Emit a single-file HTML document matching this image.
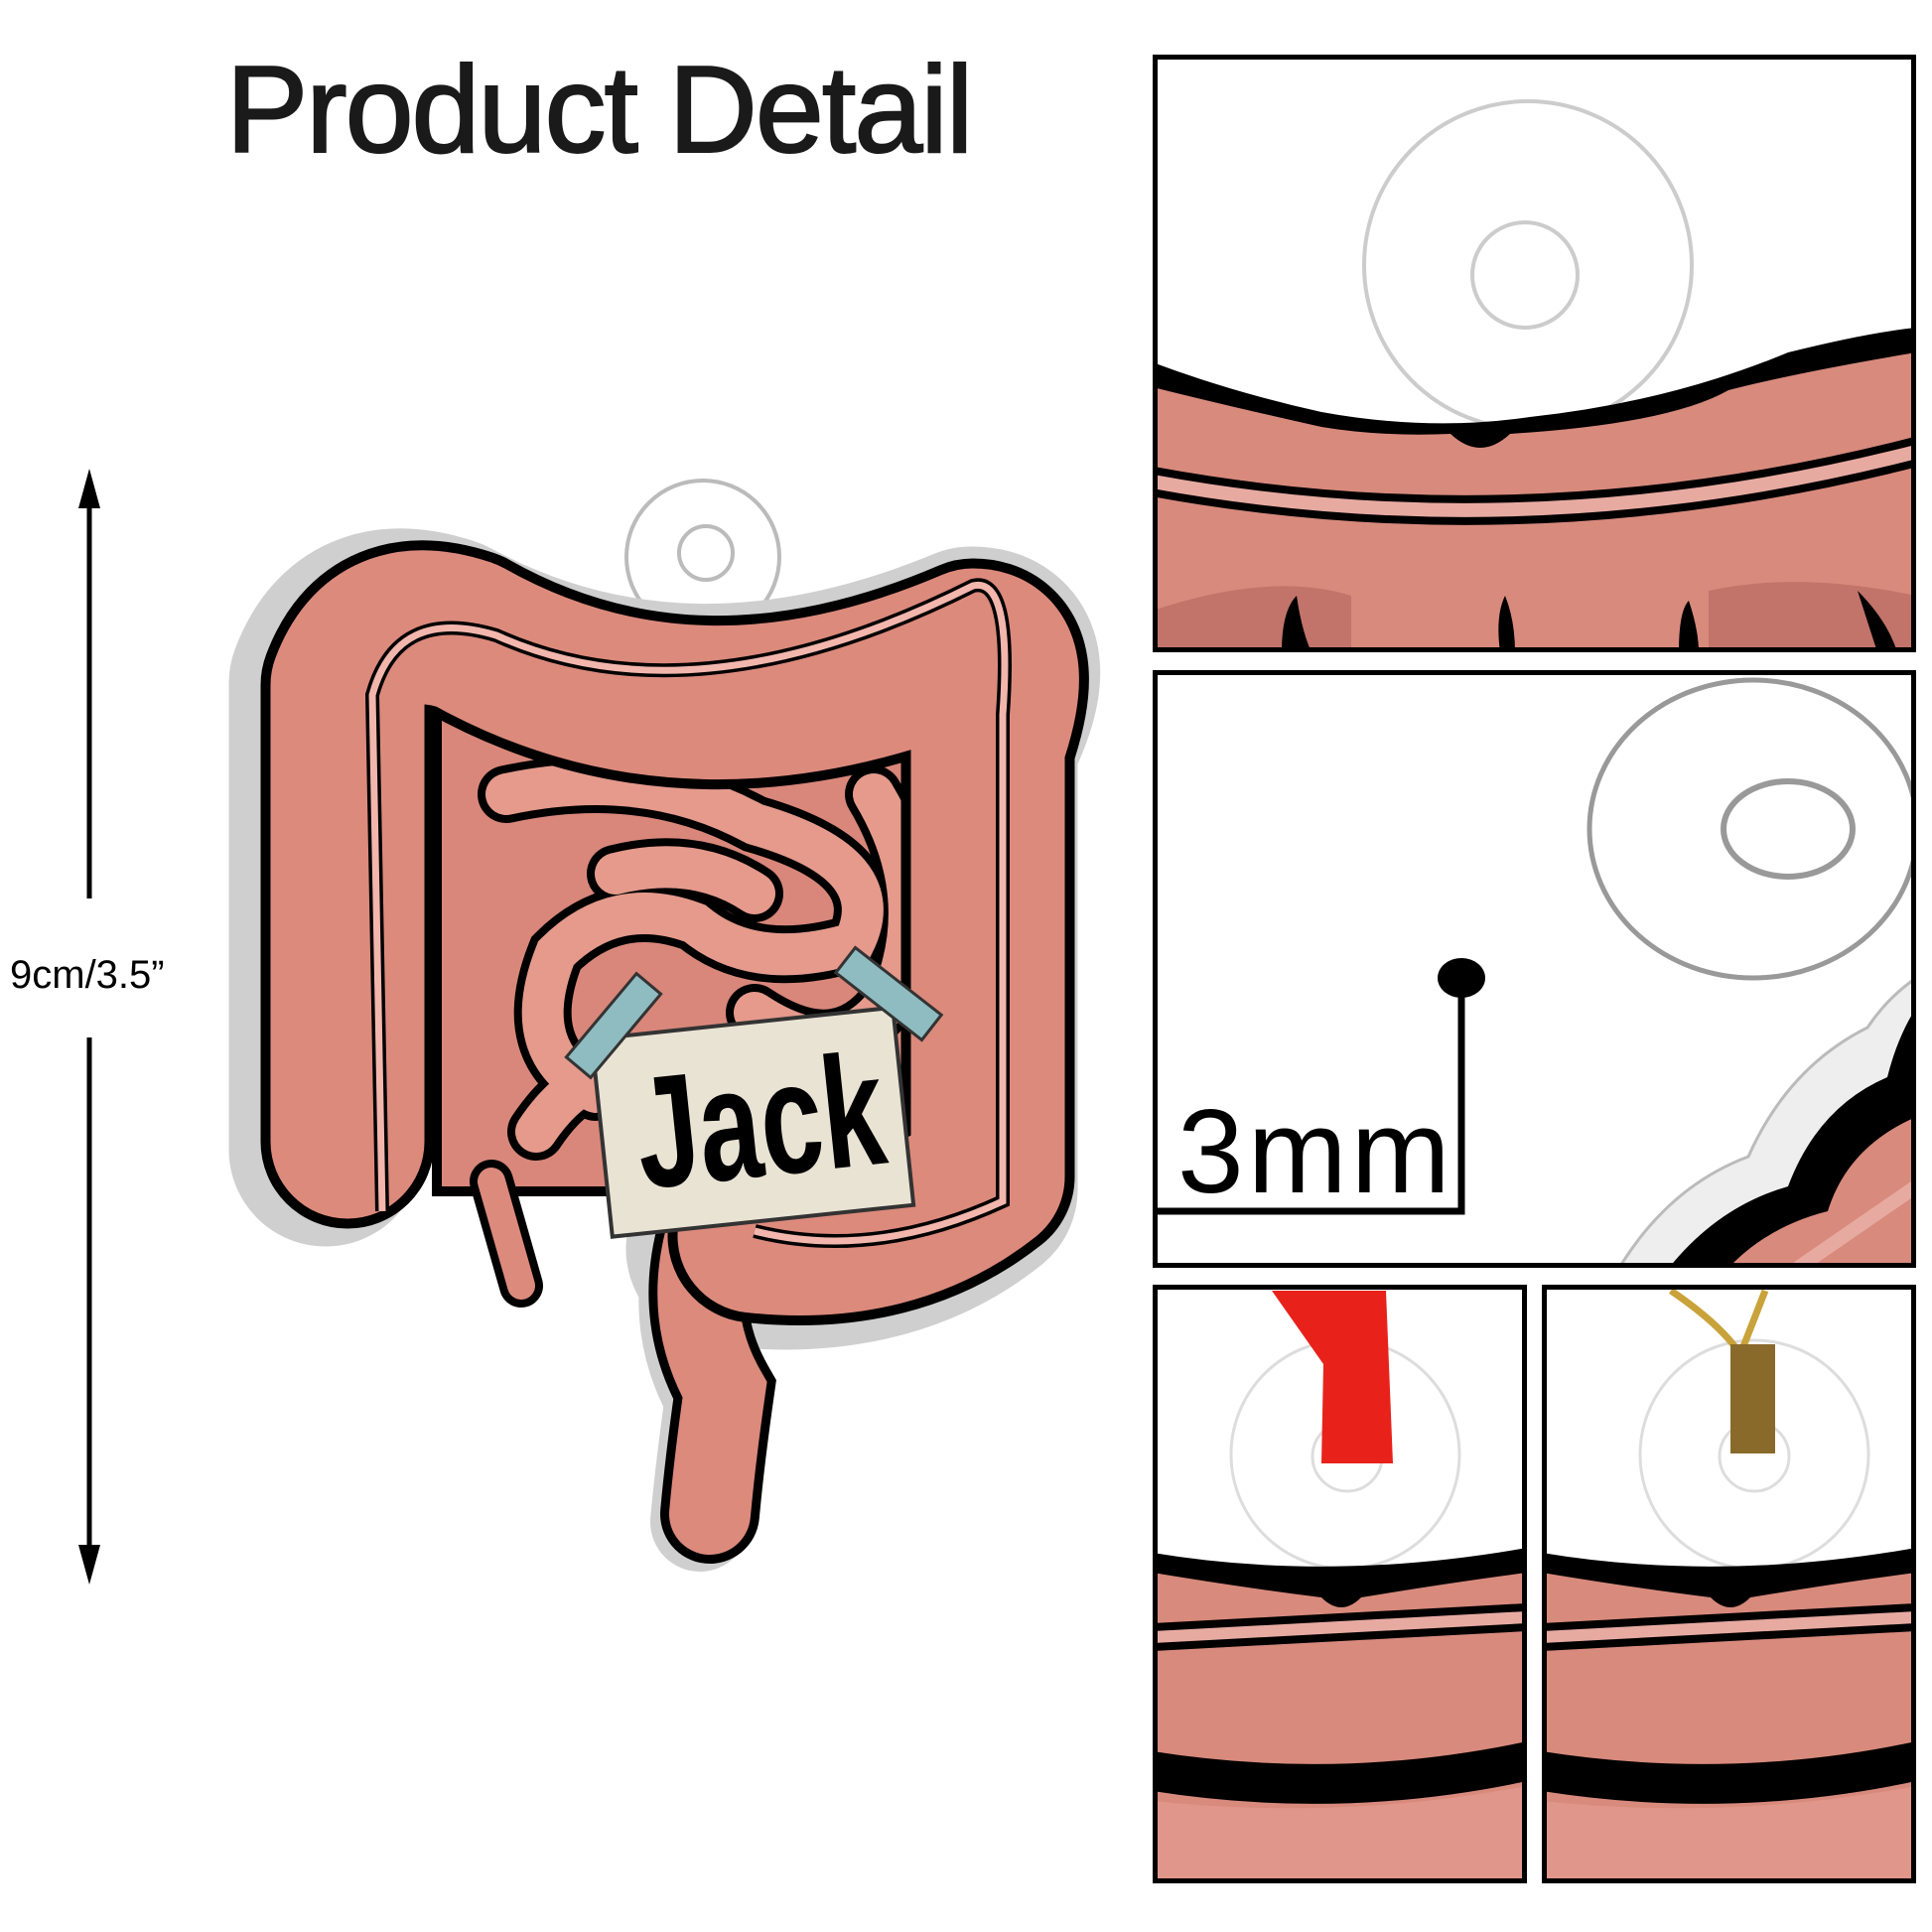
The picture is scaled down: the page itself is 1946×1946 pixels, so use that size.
<!DOCTYPE html>
<html><head><style>
html,body{margin:0;padding:0;background:#fff;}
svg{display:block}
</style></head><body>
<svg width="1946" height="1946" viewBox="0 0 1946 1946" xmlns="http://www.w3.org/2000/svg">
<rect width="1946" height="1946" fill="#fff"/>
<text x="603" y="153" font-family="Liberation Sans, sans-serif" font-size="124" text-anchor="middle" fill="#1a1a1a" letter-spacing="-2" stroke="#1a1a1a" stroke-width="2">Product Detail</text>

<line x1="90" y1="500" x2="90" y2="905" stroke="#000" stroke-width="5"/>
<line x1="90" y1="1045" x2="90" y2="1570" stroke="#000" stroke-width="5"/>
<polygon points="90,472 79,512 101,512" fill="#000"/>
<polygon points="90,1596 79,1556 101,1556" fill="#000"/>
<text x="10" y="995" font-family="Liberation Sans, sans-serif" font-size="40" fill="#000">9cm/3.5”</text>

<g>
<circle cx="708" cy="561" r="77" fill="#fff" stroke="#bbb" stroke-width="4"/>
<circle cx="711" cy="557" r="27" fill="#fff" stroke="#bbb" stroke-width="4"/>
<path d="M340,1150 L340,680 Q370,600 460,630 Q700,760 990,640 Q1050,640 1000,740 L1000,1190 Q900,1270 740,1250" fill="none" stroke="#cfcfcf" stroke-width="195" stroke-linecap="round" stroke-linejoin="round" transform="translate(-12,8)"/>
<path d="M710,1250 Q690,1330 730,1400 Q720,1470 715,1525" fill="none" stroke="#cfcfcf" stroke-width="100" stroke-linecap="round" transform="translate(-10,8)"/>
<rect x="440" y="700" width="490" height="500" fill="#d9877a" stroke="#000" stroke-width="10"/>
<g fill="none" stroke="#000" stroke-width="58" stroke-linecap="round">
<path d="M510,800 Q650,770 760,830 Q900,870 860,950 Q760,980 700,930 Q620,900 560,960 Q520,1060 600,1100"/>
<path d="M880,800 Q940,900 900,1000 Q850,1080 760,1020"/>
<path d="M540,1140 Q600,1050 680,1100"/>
<path d="M620,880 Q700,860 760,900"/>
</g>
<g fill="none" stroke="#e59a8c" stroke-width="42" stroke-linecap="round">
<path d="M510,800 Q650,770 760,830 Q900,870 860,950 Q760,980 700,930 Q620,900 560,960 Q520,1060 600,1100"/>
<path d="M880,800 Q940,900 900,1000 Q850,1080 760,1020"/>
<path d="M540,1140 Q600,1050 680,1100"/>
<path d="M620,880 Q700,860 760,900"/>
</g>
<path d="M495,1190 L525,1295" stroke="#000" stroke-width="44" stroke-linecap="round"/>
<path d="M495,1190 L525,1295" stroke="#dc8a7c" stroke-width="28" stroke-linecap="round"/>
<path d="M710,1250 Q690,1330 730,1400 Q720,1470 715,1525" fill="none" stroke="#000" stroke-width="100" stroke-linecap="round"/>
<path d="M710,1250 Q690,1330 730,1400 Q720,1470 715,1525" fill="none" stroke="#dc8a7c" stroke-width="82" stroke-linecap="round"/>
<path d="M350,1150 L350,690 Q380,610 470,640 Q700,770 980,650 Q1030,650 995,750 L995,1185 Q900,1260 760,1245" fill="none" stroke="#000" stroke-width="175" stroke-linecap="round" stroke-linejoin="round"/>
<path d="M350,1150 L350,690 Q380,610 470,640 Q700,770 980,650 Q1030,650 995,750 L995,1185 Q900,1260 760,1245" fill="none" stroke="#dc8a7c" stroke-width="155" stroke-linecap="round" stroke-linejoin="round"/>
<path d="M385,1220 L375,700 Q400,610 500,640 Q700,730 980,590 Q1020,580 1010,720 L1010,1210 Q880,1270 760,1240" fill="none" stroke="#000" stroke-width="14"/>
<path d="M385,1220 L375,700 Q400,610 500,640 Q700,730 980,590 Q1020,580 1010,720 L1010,1210 Q880,1270 760,1240" fill="none" stroke="#f2b6ad" stroke-width="7"/>
<g transform="rotate(-6 760 1125)">
<rect x="605" y="1030" width="305" height="200" fill="#e9e3d4" stroke="#333" stroke-width="4"/>
<text x="640" y="1185" font-family="Liberation Sans, sans-serif" font-weight="bold" font-size="160" textLength="250" lengthAdjust="spacingAndGlyphs" fill="#000">Jack</text>
</g>
<rect x="563" y="1017" width="110" height="32" fill="#8fbcc0" stroke="#333" stroke-width="3" transform="rotate(-50 618 1033)"/>
<rect x="840" y="985" width="110" height="32" fill="#8fbcc0" stroke="#333" stroke-width="3" transform="rotate(38 895 1001)"/>
</g>

<svg x="1161" y="55" width="769" height="602" viewBox="0 0 769 602">
<rect width="769" height="602" fill="#fff"/>
<circle cx="378" cy="212" r="165" fill="#fff" stroke="#ccc" stroke-width="4"/>
<circle cx="375" cy="222" r="53" fill="#fff" stroke="#ccc" stroke-width="4"/>
<path d="M0,310 Q80,340 170,360 Q280,380 380,365 Q520,350 640,300 Q720,280 769,275 L769,602 L0,602Z" fill="#000"/>
<path d="M0,335 Q80,355 170,375 Q230,385 300,382 Q330,410 360,382 Q520,372 580,338 Q650,320 769,300 L769,602 L0,602Z" fill="#d88a7c"/>
<path d="M0,430 Q380,500 769,400" fill="none" stroke="#000" stroke-width="30"/>
<path d="M0,430 Q380,500 769,400" fill="none" stroke="#e7aaa1" stroke-width="14"/>
<path d="M0,560 Q120,520 200,545 L200,602 L0,602Z" fill="#c2746a"/>
<path d="M560,540 Q650,520 769,545 L769,602 L560,602Z" fill="#c2746a"/>
<path d="M130,602 Q130,560 145,545 Q150,580 160,602Z M350,602 Q345,565 355,545 Q365,570 365,602Z M530,602 Q530,560 540,550 Q550,580 550,602Z M710,540 Q740,570 750,602 L730,602Z" fill="#000"/>
<rect x="2.5" y="2.5" width="764" height="597" fill="none" stroke="#000" stroke-width="5"/>
</svg>

<svg x="1161" y="675" width="769" height="602" viewBox="0 0 769 602">
<rect width="769" height="602" fill="#fff"/>
<ellipse cx="605" cy="160" rx="165" ry="150" fill="#fff" stroke="#999" stroke-width="5"/>
<ellipse cx="640" cy="160" rx="65" ry="48" fill="#fff" stroke="#999" stroke-width="6"/>
<path d="M470,602 Q520,520 600,490 Q640,400 720,360 Q740,330 769,310 L769,602Z" fill="#eee" stroke="#bbb" stroke-width="3"/>
<path d="M520,602 Q570,540 640,520 Q670,440 740,410 Q750,370 769,340 L769,602Z" fill="#000"/>
<path d="M580,602 Q620,560 680,545 Q700,480 769,450 L769,602Z" fill="#d88a7c"/>
<path d="M650,602 L769,520" stroke="#e7aaa1" stroke-width="14"/>
<text x="25" y="526" font-family="Liberation Sans, sans-serif" font-size="120" fill="#000" letter-spacing="4">3mm</text>
<path d="M5,545 L311,545 L311,313" fill="none" stroke="#000" stroke-width="7"/>
<ellipse cx="311" cy="310" rx="24" ry="20" fill="#000"/>
<rect x="2.5" y="2.5" width="764" height="597" fill="none" stroke="#000" stroke-width="5"/>
</svg>

<svg x="1161" y="1294" width="377" height="603" viewBox="0 0 377 603">
<rect width="377" height="603" fill="#fff"/>
<circle cx="194" cy="171" r="115" fill="#fff" stroke="#ddd" stroke-width="3"/>
<circle cx="196" cy="173" r="35" fill="#fff" stroke="#ddd" stroke-width="3"/>
<polygon points="120,6 235,6 242,180 170,180 172,80" fill="#e8221b"/>
<path d="M0,270 Q180,300 377,265 L377,603 L0,603Z" fill="#000"/>
<path d="M0,290 Q90,305 170,315 Q190,335 210,315 Q300,300 377,290 L377,603 L0,603Z" fill="#d88a7c"/>
<path d="M0,355 L377,335" stroke="#000" stroke-width="28"/>
<path d="M0,355 L377,335" stroke="#e7aaa1" stroke-width="12"/>
<path d="M0,470 Q190,500 377,460 L377,500 Q190,540 0,510Z" fill="#000"/>
<path d="M0,520 Q190,540 377,505 L377,603 L0,603Z" fill="#e0968a"/>
<rect x="2.5" y="2.5" width="372" height="598" fill="none" stroke="#000" stroke-width="5"/>
</svg>

<svg x="1553" y="1294" width="377" height="603" viewBox="0 0 377 603">
<rect width="377" height="603" fill="#fff"/>
<circle cx="214" cy="171" r="115" fill="#fff" stroke="#ddd" stroke-width="3"/>
<circle cx="214" cy="173" r="35" fill="#fff" stroke="#ddd" stroke-width="3"/>
<path d="M130,6 Q180,40 200,70 L225,6" fill="none" stroke="#c9a23a" stroke-width="7"/>
<rect x="190" y="60" width="45" height="110" fill="#8a6a2a"/>
<path d="M0,270 Q180,300 377,265 L377,603 L0,603Z" fill="#000"/>
<path d="M0,290 Q90,305 170,315 Q190,335 210,315 Q300,300 377,290 L377,603 L0,603Z" fill="#d88a7c"/>
<path d="M0,355 L377,335" stroke="#000" stroke-width="28"/>
<path d="M0,355 L377,335" stroke="#e7aaa1" stroke-width="12"/>
<path d="M0,470 Q190,500 377,460 L377,500 Q190,540 0,510Z" fill="#000"/>
<path d="M0,520 Q190,540 377,505 L377,603 L0,603Z" fill="#e0968a"/>
<rect x="2.5" y="2.5" width="372" height="598" fill="none" stroke="#000" stroke-width="5"/>
</svg>
</svg>
</body></html>
